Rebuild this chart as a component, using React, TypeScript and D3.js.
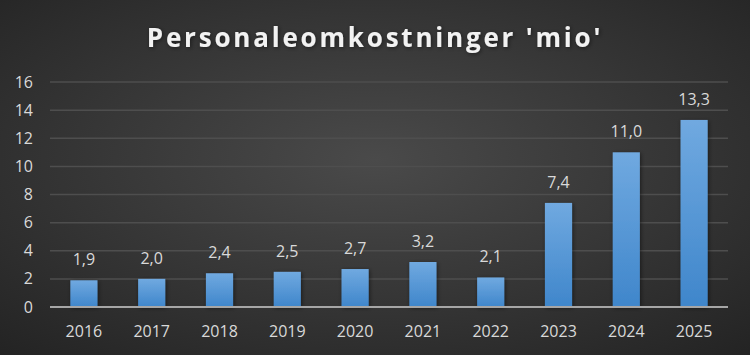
import React from "react";
import { scaleBand, scaleLinear } from "d3";

const years = ["2016", "2017", "2018", "2019", "2020", "2021", "2022", "2023", "2024", "2025"];
const values = [1.9, 2.0, 2.4, 2.5, 2.7, 3.2, 2.1, 7.4, 11.0, 13.3];
const yTicks = [0, 2, 4, 6, 8, 10, 12, 14, 16];
const title = "Personaleomkostninger 'mio'";

const fmt = (v: number) => v.toFixed(1).replace(".", ",");

export default function App() {
  const width = 750,
    height = 355;
  const margin = { top: 82, right: 22, bottom: 48, left: 50 };
  const innerWidth = width - margin.left - margin.right;
  const innerHeight = height - margin.top - margin.bottom;

  const xScale = scaleBand<string>().domain(years).range([0, innerWidth]).paddingInner(0.6).paddingOuter(0.3);
  const yScale = scaleLinear().domain([0, 16]).range([innerHeight, 0]);

  const font = "Open Sans, Lato, sans-serif";

  return (
    <svg width={width} height={height} style={{ position: "absolute", left: 0, top: 0 }}>
      <defs>
        <radialGradient id="bg" cx="50%" cy="45%" r="75%">
          <stop offset="0%" stopColor="#4a4a4a" />
          <stop offset="100%" stopColor="#232323" />
        </radialGradient>
        <linearGradient id="bar" x1="0" y1="0" x2="0" y2="1">
          <stop offset="0%" stopColor="#70a9e0" />
          <stop offset="100%" stopColor="#3f86cb" />
        </linearGradient>
        <filter id="shadow" x="-30%" y="-10%" width="160%" height="130%">
          <feDropShadow dx="1" dy="1" stdDeviation="2" floodColor="#000" floodOpacity="0.5" />
        </filter>
      </defs>
      <rect width={width} height={height} fill="url(#bg)" />
      <text
        x={width / 2}
        y={47}
        textAnchor="middle"
        fill="#f2f2f2"
        fontFamily={font}
        fontWeight="bold"
        fontSize={26}
        letterSpacing={2.8}
        filter="url(#shadow)"
      >
        {title}
      </text>
      <g transform={`translate(${margin.left}, ${margin.top})`}>
        {yTicks.map(t => (
          <g key={t}>
            {t > 0 && (
              <line x1={0} x2={innerWidth} y1={yScale(t)} y2={yScale(t)} stroke="#4e4e4e" strokeWidth={1.5} />
            )}
            <text
              x={-17}
              y={yScale(t)}
              dy="0.35em"
              textAnchor="end"
              fill="#d9d9d9"
              fontFamily={font}
              fontSize={16}
            >
              {t}
            </text>
          </g>
        ))}
        {years.map((yr, i) => {
          const x = xScale(yr)!;
          const bw = xScale.bandwidth();
          const v = values[i];
          return (
            <g key={yr}>
              <rect
                x={x}
                y={yScale(v)}
                width={bw}
                height={innerHeight - yScale(v)}
                fill="url(#bar)"
                filter="url(#shadow)"
              />
              <text
                x={x + bw / 2}
                y={yScale(v) - 15}
                textAnchor="middle"
                fill="#d9d9d9"
                fontFamily={font}
                fontSize={16}
              >
                {fmt(v)}
              </text>
              <text
                x={x + bw / 2}
                y={innerHeight + 30}
                textAnchor="middle"
                fill="#d9d9d9"
                fontFamily={font}
                fontSize={16}
              >
                {yr}
              </text>
            </g>
          );
        })}
        <line x1={0} x2={innerWidth} y1={innerHeight} y2={innerHeight} stroke="#a6a6a6" strokeWidth={2} />
      </g>
    </svg>
  );
}
